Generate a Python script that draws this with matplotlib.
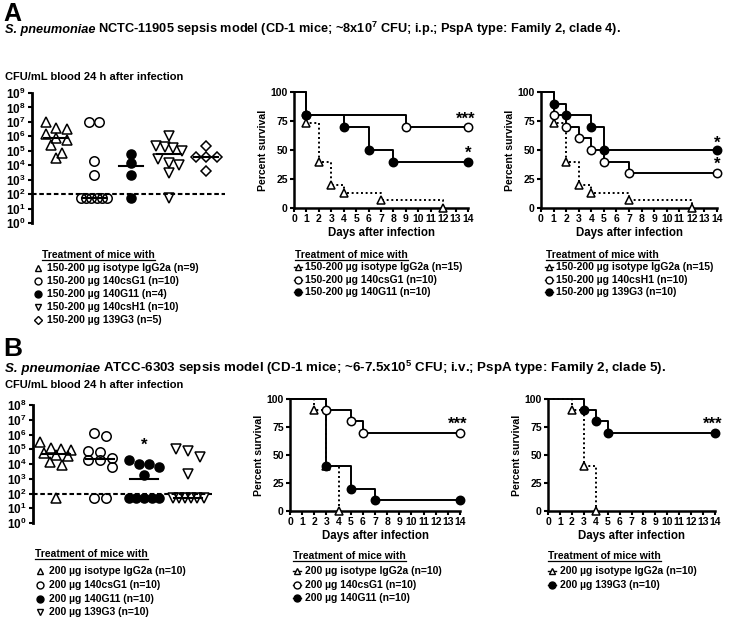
import matplotlib.pyplot as plt
import numpy as np
from matplotlib.lines import Line2D

plt.rcParams['font.family'] = 'Liberation Sans'
plt.rcParams['mathtext.fontset'] = 'custom'
plt.rcParams['mathtext.rm'] = 'Liberation Sans:bold'
plt.rcParams['mathtext.it'] = 'Liberation Sans:italic:bold'
plt.rcParams['mathtext.bf'] = 'Liberation Sans:bold'
plt.rcParams['mathtext.default'] = 'rm'

W, H = 729, 624

# -------------------------------
# Data: CFU/mL blood 24 h (panel A)
# -------------------------------
detection_limit = 100
a_iso_cfu = [1e7, 4e6, 3e6, 1.5e6, 8e5, 6e5, 2.5e5, 7e4, 3e4]
a_csg1_cfu = [1e7, 1e7, 2e4, 2e3, 50, 50, 50, 50, 50, 50]
a_g11_cfu = [6e4, 1.5e4, 2e3, 50]
a_csh1_cfu = [1e6, 2e5, 1.8e5, 1.5e5, 1e5, 2.5e4, 1.5e4, 1e4, 2.8e3, 50]
a_g3_cfu = [2.2e5, 4e4, 4e4, 4e4, 4e3]
a_cfu_labels = ["150-200 µg isotype IgG2a (n=9)", "150-200 µg 140csG1 (n=10)",
                "150-200 µg 140G11 (n=4)", "150-200 µg 140csH1 (n=10)",
                "150-200 µg 139G3 (n=5)"]

# CFU/mL blood 24 h (panel B)
b_iso_cfu = [3e5, 1.2e5, 1e5, 9e4, 6e4, 4e4, 3.5e4, 1.3e4, 9e3, 50]
b_csg1_cfu = [1.3e6, 8e5, 8e4, 7e4, 2.5e4, 2e4, 1.8e4, 6e3, 50, 50]
b_g11_cfu = [2e4, 1e4, 1e4, 6e3, 1.8e3, 50, 50, 50, 50, 50]
b_g3_cfu = [1e5, 8e4, 3e4, 2e3, 50, 50, 50, 50, 50, 50]
b_cfu_labels = ["200 µg isotype IgG2a (n=10)", "200 µg 140csG1 (n=10)",
                "200 µg 140G11 (n=10)", "200 µg 139G3 (n=10)"]
b_cfu_star = "*"
b_cfu_star_group = 2
b_cfu_star_level = 2e5

# -------------------------------
# Data: survival (percent) at event days
# -------------------------------
a_iso_days = [0, 1, 2, 3, 4, 7, 12]
a_iso_surv = [100, 73.3, 40, 20, 13.3, 6.7, 0]
a_csg1_days = [0, 1, 9, 14]
a_csg1_surv = [100, 80, 70, 70]
a_g11_days = [0, 1, 4, 6, 8, 14]
a_g11_surv = [100, 80, 70, 50, 40, 40]
a_csh1_days = [0, 1, 2, 3, 4, 5, 7, 14]
a_csh1_surv = [100, 80, 70, 60, 50, 40, 30, 30]
a_g3_days = [0, 1, 2, 4, 5, 14]
a_g3_surv = [100, 90, 80, 70, 50, 50]

b_iso_days = [0, 2, 3, 4]
b_iso_surv = [100, 90, 40, 0]
b_csg1_days = [0, 3, 5, 6, 14]
b_csg1_surv = [100, 90, 80, 70, 70]
b_g11_days = [0, 3, 5, 7, 14]
b_g11_surv = [100, 40, 20, 10, 10]
b_g3_days = [0, 3, 4, 5, 14]
b_g3_surv = [100, 90, 80, 70, 70]

a2_labels = ["150-200 µg isotype IgG2a (n=15)", "150-200 µg 140csG1 (n=10)",
             "150-200 µg 140G11 (n=10)"]
a3_labels = ["150-200 µg isotype IgG2a (n=15)", "150-200 µg 140csH1 (n=10)",
             "150-200 µg 139G3 (n=10)"]
b2_labels = ["200 µg isotype IgG2a (n=10)", "200 µg 140csG1 (n=10)",
             "200 µg 140G11 (n=10)"]
b3_labels = ["200 µg isotype IgG2a (n=10)", "200 µg 139G3 (n=10)"]

title_a = ("S. pneumoniae", "NCTC-11905 sepsis model (CD-1 mice; ~8x$10^{7}$ CFU; i.p.; PspA type: Family 2, clade 4).")
title_b = ("S. pneumoniae", "ATCC-6303 sepsis model (CD-1 mice; ~6-7.5x$10^{5}$ CFU; i.v.; PspA type: Family 2, clade 5).")
cfu_heading = "CFU/mL blood 24 h after infection"
legend_title = "Treatment of mice with"

fig = plt.figure(figsize=(W / 100, H / 100), dpi=100)
renderer = fig.canvas.get_renderer()
B = 'bold'
LEG_FS = 7.5


def fx(x):
    return x / W


def fy(y):
    return 1 - y / H


def px_axes(l, t, r, b):
    return fig.add_axes([fx(l), fy(b), (r - l) / W, (b - t) / H])


def bold_ticks(ax):
    for lbl in ax.get_xticklabels() + ax.get_yticklabels():
        lbl.set_fontweight(B)


def swarm(vals, dx, ytol, maxw):
    lv = np.log10(vals)
    order = np.argsort(-lv, kind='stable')
    offs = np.zeros(len(lv))
    bins, cur = [], [order[0]]
    for i in order[1:]:
        if lv[cur[0]] - lv[i] < ytol:
            cur.append(i)
        else:
            bins.append(cur)
            cur = [i]
    bins.append(cur)
    for b in bins:
        k = len(b)
        step = dx if k == 1 else min(dx, maxw / (k - 1))
        offs[b] = (np.arange(k) - (k - 1) / 2) * step
    return offs


def cfu_panel(ax, groups, styles, xlim, top_exp, dl_frac):
    ax.set_yscale('log')
    ax.set_ylim(1, 10 ** top_exp)
    ax.set_xlim(*xlim)
    for i, (vals, (m, fc, ms)) in enumerate(zip(groups, styles)):
        offs = swarm(vals, 0.28, 0.6, 0.7)
        ax.plot(i + offs, vals, ls='none', marker=m, mfc=fc, mec='k', mew=1.1,
                ms=ms, clip_on=False, zorder=3)
        med = np.median(vals)
        ax.plot([i - 0.32, i + 0.32], [med, med], color='k', lw=1.5, zorder=4)
    ax.axhline(detection_limit, xmin=0, xmax=dl_frac, color='k', lw=1.5,
               ls=(0, (2.2, 1.3)), zorder=2)
    for s in ['top', 'right', 'bottom']:
        ax.spines[s].set_visible(False)
    ax.spines['left'].set_linewidth(2)
    ax.set_yticks([10 ** k for k in range(top_exp + 1)])
    ax.set_yticklabels(['$10^{%d}$' % k for k in range(top_exp + 1)])
    ax.yaxis.set_minor_locator(plt.NullLocator())
    ax.tick_params(axis='y', width=1.5, length=3, labelsize=8.5, pad=1.5)
    ax.set_xticks([])
    ax.patch.set_visible(False)


def surv_panel(ax, curves, stars):
    for days, surv, m, fc, ls in curves:
        ax.step(days, surv, where='post', color='k', lw=1.4, ls=ls, clip_on=False)
        ax.plot(days[1:], surv[1:], ls='none', marker=m, mfc=fc, mec='k',
                ms=6, mew=1.1, clip_on=False, zorder=3)
    for xs, ys, txt in stars:
        ax.text(xs, ys, txt, ha='center', va='baseline', fontsize=12, weight=B)
    ax.set_xlim(0, 14)
    ax.set_ylim(0, 100)
    for s in ['top', 'right']:
        ax.spines[s].set_visible(False)
    for s in ['left', 'bottom']:
        ax.spines[s].set_linewidth(1.8)
    ax.set_xticks(range(15))
    ax.set_yticks([0, 25, 50, 75, 100])
    ax.tick_params(width=1.5, length=3, labelsize=7.5, pad=1.5)
    bold_ticks(ax)
    ax.set_xlabel("Days after infection", fontsize=8.3, weight=B, labelpad=2)
    ax.set_ylabel("Percent survival", fontsize=7.6, weight=B, labelpad=2)
    ax.patch.set_visible(False)


underline_titles = []


def legend_block(x, mx, tx, ytitle, rows, with_line):
    t = fig.text(fx(x), fy(ytitle), legend_title, fontsize=LEG_FS, weight=B, ha='left', va='center')
    underline_titles.append(t)
    for y, (m, fc, ms), label in rows:
        if with_line:
            fig.add_artist(Line2D([fx(mx - 4), fx(mx + 4)], [fy(y), fy(y)], color='k', lw=1))
        fig.add_artist(Line2D([fx(mx)], [fy(y)], marker=m, mfc=fc, mec='k', ms=ms,
                              mew=1, ls='none'))
        fig.text(fx(tx), fy(y), label, fontsize=LEG_FS, weight=B, ha='left', va='center')


def title_line(ybase, parts, fs):
    t1 = fig.text(fx(5), fy(ybase), parts[0], fontsize=fs, weight=B, style='italic', va='baseline')
    bb = t1.get_window_extent(renderer)
    fig.text(fx(bb.x1 + 2.5), fy(ybase), parts[1], fontsize=fs, weight=B, va='baseline')


# -------------------------------
# Panel labels and titles
# -------------------------------
fig.text(fx(3), fy(21), "A", fontsize=18, weight=B, va='baseline')
fig.text(fx(3), fy(356), "B", fontsize=19, weight=B, va='baseline')
title_line(33, title_a, 9.2)
title_line(372, title_b, 9.6)
fig.text(fx(5), fy(80), cfu_heading, fontsize=8, weight=B, va='baseline')
fig.text(fx(5), fy(388), cfu_heading, fontsize=8, weight=B, va='baseline')

# -------------------------------
# A: CFU scatter
# -------------------------------
a_styles = [('^', 'none', 7.5), ('o', 'none', 6.8), ('o', 'k', 6.5), ('v', 'none', 7.5), ('D', 'none', 5.5)]
ax = px_axes(32, 93, 230, 223)
cfu_panel(ax, [a_iso_cfu, a_csg1_cfu, a_g11_cfu, a_csh1_cfu, a_g3_cfu], a_styles,
          (-0.65, 4.63), 9, 0.975)
leg_styles = [('^', 'none', 5), ('o', 'none', 5), ('o', 'k', 5), ('v', 'none', 5), ('D', 'none', 4)]
legend_block(42, 38, 47, 255, zip([268, 281, 294, 307, 320], leg_styles, a_cfu_labels), False)

# B: CFU scatter
b_styles = [('^', 'none', 7.5), ('o', 'none', 6.8), ('o', 'k', 6.5), ('v', 'none', 7.5)]
ax = px_axes(33, 405, 215, 523)
cfu_panel(ax, [b_iso_cfu, b_csg1_cfu, b_g11_cfu, b_g3_cfu], b_styles,
          (-0.52, 3.61), 8, 0.985)
ax.text(b_cfu_star_group, b_cfu_star_level, b_cfu_star, ha='center', va='center', fontsize=12, weight=B)
legend_block(35, 40, 49, 554, zip([571, 585, 599, 612], leg_styles[:4], b_cfu_labels), False)

# -------------------------------
# A: survival
# -------------------------------
dotted = (0, (1, 1.4))
iso_a = (a_iso_days, a_iso_surv, '^', 'white', dotted)
ax = px_axes(294, 92, 468, 208)
surv_panel(ax, [iso_a,
                (a_csg1_days, a_csg1_surv, 'o', 'white', '-'),
                (a_g11_days, a_g11_surv, 'o', 'k', '-')],
           [(13.8, 73, "***"), (14, 43, "*")])
surv_leg = [('^', 'white', 5), ('o', 'white', 5), ('o', 'k', 5)]
legend_block(295, 298, 305, 255, zip([267, 280, 292], surv_leg, a2_labels), True)

ax = px_axes(541, 92, 717, 208)
surv_panel(ax, [iso_a,
                (a_csh1_days, a_csh1_surv, 'o', 'white', '-'),
                (a_g3_days, a_g3_surv, 'o', 'k', '-')],
           [(14, 52, "*"), (14, 34, "*")])
legend_block(546, 549, 556, 255, zip([267, 280, 292], surv_leg, a3_labels), True)

# B: survival
iso_b = (b_iso_days, b_iso_surv, '^', 'white', dotted)
ax = px_axes(290, 399, 460, 511)
surv_panel(ax, [iso_b,
                (b_csg1_days, b_csg1_surv, 'o', 'white', '-'),
                (b_g11_days, b_g11_surv, 'o', 'k', '-')],
           [(13.8, 73, "***")])
legend_block(293, 297, 305, 556, zip([571, 585, 598], surv_leg, b2_labels), True)

ax = px_axes(548, 399, 715, 511)
surv_panel(ax, [iso_b,
                (b_g3_days, b_g3_surv, 'o', 'k', '-')],
           [(13.8, 73, "***")])
legend_block(548, 552, 560, 556, zip([571, 585], [surv_leg[0], surv_leg[2]], b3_labels), True)

# underline the legend titles
for t in underline_titles:
    bb = t.get_window_extent(renderer)
    y = bb.y0 + 0.5
    fig.add_artist(Line2D([bb.x0 / W, bb.x1 / W], [y / H, y / H], color='k', lw=0.9))

fig.savefig('out.png', dpi=100)
